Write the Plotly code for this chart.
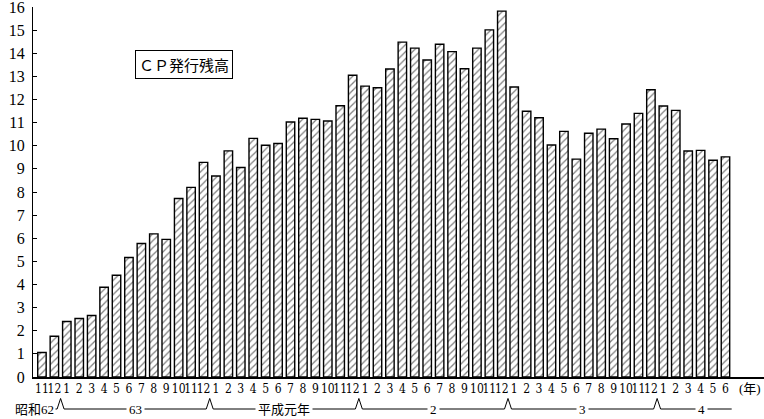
import plotly.graph_objects as go

# months (labels) from 昭和62年11月 to 平成4年6月
months = [11, 12] + list(range(1, 13)) * 4 + list(range(1, 7))
# CP発行残高 (兆円)
values = [1.06, 1.76,
          2.40, 2.53, 2.66, 3.88, 4.40, 5.17, 5.77, 6.19, 5.95, 7.72, 8.20, 9.28,
          8.69, 9.78, 9.06, 10.32, 10.02, 10.10, 11.03, 11.19, 11.14, 11.07, 11.73, 13.05,
          12.58, 12.51, 13.32, 14.48, 14.22, 13.71, 14.39, 14.07, 13.33, 14.22, 15.01, 15.82,
          12.54, 11.49, 11.21, 10.03, 10.62, 9.42, 10.54, 10.72, 10.30, 10.94, 11.40, 12.42,
          11.72, 11.53, 9.77, 9.80, 9.37, 9.52]
era_labels = ["昭和62", "63", "平成元年", "2", "3", "4"]
yticks = list(range(0, 17))

x = list(range(len(values)))
ticktext = [str(m) for m in months]

serif = "Liberation Serif, Noto Sans CJK JP, serif"
cond = "DejaVu Serif Condensed, Liberation Serif, serif"

fig = go.Figure()
fig.add_trace(go.Bar(
    x=x, y=values, width=0.68,
    marker=dict(color="white", line=dict(color="black", width=1.4),
                pattern=dict(shape="/", fgcolor="black", bgcolor="white",
                             size=5, solidity=0.25)),
    showlegend=False,
))

# year boundaries (between month 12 and month 1)
bounds = [i + 0.5 for i in range(len(months) - 1) if months[i] == 12 and months[i + 1] == 1]
yl, yp, hw = -0.0865, -0.058, 0.28
x_start, x_end = 0.8, len(values) - 0.5
path = f"M {x_start},{yl}"
for b in bounds:
    path += f" L {b - hw},{yl} L {b},{yp} L {b + hw},{yl}"
path += f" L {x_end},{yl}"

shapes = [dict(type="path", path=path, xref="x", yref="paper",
               line=dict(color="black", width=1), layer="above")]

# era label positions: centred between year boundaries
edges = bounds + [x_end + 1.2]
era_x = [(edges[i] + edges[i + 1]) / 2 for i in range(len(edges) - 1)]

annotations = [dict(x=-0.027, y=yl, xref="paper", yref="paper", text=era_labels[0],
                    showarrow=False, font=dict(family=serif, size=13, color="black"),
                    bgcolor="white", borderpad=1, xanchor="left", yanchor="middle")]
for lab, ex in zip(era_labels[1:], era_x):
    annotations.append(dict(x=ex, y=yl, xref="x", yref="paper", text=lab,
                            showarrow=False, font=dict(family=serif, size=13, color="black"),
                            bgcolor="white", borderpad=2, xanchor="center", yanchor="middle"))
annotations.append(dict(x=len(values) + 1.0, y=0, xref="x", yref="y", text="(年)",
                        showarrow=False, yshift=-11,
                        font=dict(family=serif, size=13, color="black")))
annotations.append(dict(x=11.43, y=13.52, xref="x", yref="y", text="ＣＰ発行残高",
                        showarrow=False, font=dict(family="Noto Sans CJK JP", size=15, color="black"),
                        bordercolor="black", borderwidth=1, borderpad=3, bgcolor="white"))

fig.update_layout(
    width=764, height=419,
    margin=dict(l=33, r=0, t=7, b=42, autoexpand=False),
    paper_bgcolor="white", plot_bgcolor="white",
    bargap=0.3,
    xaxis=dict(range=[-0.72, 58.1], tickvals=x, ticktext=ticktext, tickangle=0,
               showline=True, linecolor="black", linewidth=1.5, ticks="",
               showgrid=False, zeroline=False, automargin=False,
               tickfont=dict(family=cond, size=12, color="black")),
    yaxis=dict(range=[0, 16], tickvals=yticks, ticks="inside", ticklen=4,
               tickcolor="black", showline=True, linecolor="black", linewidth=1.2,
               showgrid=False, zeroline=False, ticklabelstandoff=4, automargin=False,
               ticklabeloverflow="allow",
               tickfont=dict(family=serif, size=16, color="black")),
    shapes=shapes, annotations=annotations,
)

fig.write_html("out.html", config={"displayModeBar": False},
               post_script="document.body.style.margin='0';document.body.style.overflow='hidden';")
